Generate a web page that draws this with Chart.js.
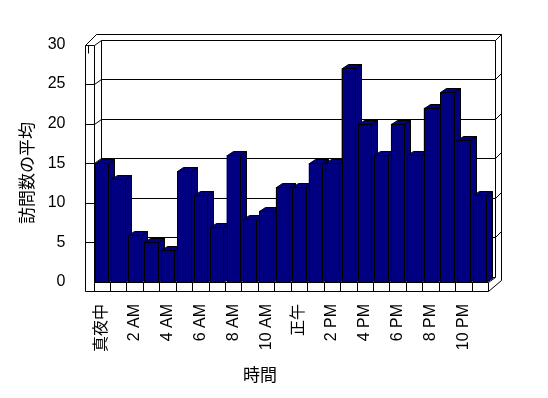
<!DOCTYPE html>
<html><head><meta charset="utf-8">
<script src="https://cdn.jsdelivr.net/npm/chart.js@4/dist/chart.umd.min.js"></script>
<style>html,body{margin:0;padding:0;background:#fff}#wrap{width:548px;height:398px}</style>
</head><body><div id="wrap"><canvas id="c" width="548" height="398"></canvas></div>
<script>
const hours = ['真夜中','1 AM','2 AM','3 AM','4 AM','5 AM','6 AM','7 AM','8 AM','9 AM','10 AM','11 AM',
               '正午','1 PM','2 PM','3 PM','4 PM','5 PM','6 PM','7 PM','8 PM','9 PM','10 PM','11 PM'];
const visits = [15,13,6,5,4,14,11,7,16,8,9,12,12,15,15,27,20,16,20,16,22,24,18,11];
const yTicks = [0,5,10,15,20,25,30];
const xTitle = '時間';
const yTitle = '訪問数の平均';

const BAR = 'rgb(0,0,128)';
const FONT = '"Liberation Sans", "Noto Sans CJK JP", sans-serif';
const CJK = '"Noto Sans CJK JP", sans-serif';

function line(ctx, pts){
  ctx.beginPath();
  ctx.moveTo(pts[0][0], pts[0][1]);
  for(let i=1;i<pts.length;i++) ctx.lineTo(pts[i][0], pts[i][1]);
  ctx.stroke();
}
function poly(ctx, pts, fill){
  ctx.beginPath();
  ctx.moveTo(pts[0][0], pts[0][1]);
  for(let i=1;i<pts.length;i++) ctx.lineTo(pts[i][0], pts[i][1]);
  ctx.closePath();
  ctx.fillStyle = fill; ctx.fill();
  ctx.stroke();
}
const s = v => Math.round(v) + 0.5;

const box3d = {
  id: 'box3d',
  beforeDatasetsDraw(chart){
    const {ctx, scales:{x, y}} = chart;
    const L = s(x.left), R = s(x.right);
    const T = s(y.getPixelForValue(yTicks[yTicks.length-1])), B = s(y.getPixelForValue(0));
    const dx = 7, dy = -5, th = 9, bx = 6, by = -6;
    ctx.save();
    ctx.strokeStyle = '#000'; ctx.lineWidth = 1;
    yTicks.forEach(v => {
      const gy = s(y.getPixelForValue(v));
      if (v > 0) line(ctx, [[L-th, gy],[L, gy]]);
      line(ctx, [[L, gy],[L+dx, gy+dy],[R+dx, gy+dy]]);
      if (v > 0) line(ctx, [[R+dx, gy+dy],[R+dx+bx, gy+dy+by]]);
    });
    line(ctx, [[L+dx, T+dy],[L+dx, B+dy]]);
    line(ctx, [[R+dx, T+dy],[R+dx, B+dy]]);
    line(ctx, [[L, T],[L, B]]);
    line(ctx, [[L-th, B+th],[L-th, T],[L-th+11, T+dy+by],[R+dx+bx, T+dy+by],[R+dx+bx, B+dy-th+12],[R, B+th]]);
    line(ctx, [[L-th+3, T],[L-th+3, T+8]]);
    line(ctx, [[L, B],[R, B]]);
    line(ctx, [[L-th, B+th],[R, B+th]]);
    line(ctx, [[R, B],[R+dx, B+dy]]);
    for (let i = 0; i <= hours.length; i++){
      const px = s(x.left + (x.right - x.left) * i / hours.length);
      line(ctx, [[px, B],[px, B+th]]);
    }
    ctx.restore();
  },
  afterDatasetsDraw(chart){
    const {ctx} = chart;
    const meta = chart.getDatasetMeta(0);
    const bdx = 6, bdy = -4;
    ctx.save();
    ctx.strokeStyle = '#000'; ctx.lineWidth = 1;
    meta.data.forEach(bar => {
      const p = bar.getProps(['x','y','base','width'], true);
      const l = s(p.x - p.width/2), r = s(p.x + p.width/2);
      const t = s(p.y), b = s(p.base);
      poly(ctx, [[r,t],[r+bdx,t+bdy],[r+bdx,b+bdy],[r,b]], BAR);
      poly(ctx, [[l,t],[l+bdx,t+bdy],[r+bdx,t+bdy],[r,t]], BAR);
      poly(ctx, [[l,t],[r,t],[r,b],[l,b]], BAR);
    });
    ctx.restore();
  },
  afterDraw(chart){
    const {ctx} = chart;
    ctx.save();
    ctx.fillStyle = '#000';
    ctx.font = '17px ' + CJK;
    ctx.textAlign = 'center'; ctx.textBaseline = 'middle';
    ctx.fillText(xTitle, 260, 375);
    ctx.translate(27, 173);
    ctx.rotate(-Math.PI/2);
    ctx.fillText(yTitle, 0, 0);
    ctx.restore();
  }
};

new Chart(document.getElementById('c'), {
  type: 'bar',
  data: {
    labels: hours,
    datasets: [{
      data: visits,
      backgroundColor: BAR,
      borderWidth: 0,
      barPercentage: 0.81,
      categoryPercentage: 1.0
    }]
  },
  options: {
    responsive: false,
    animation: false,
    events: [],
    layout: { padding: { top: 44.5, right: 60, bottom: 0, left: 0 } },
    plugins: { legend: { display: false }, tooltip: { enabled: false }, title: { display: false } },
    scales: {
      x: {
        grid: { display: false },
        border: { display: false },
        ticks: {
          autoSkip: false,
          maxRotation: 90, minRotation: 90,
          padding: 14,
          color: '#000',
          font: { size: 16, family: FONT },
          callback: (v, i) => (i % 2 === 0 ? hours[i] : '')
        },
        afterFit: sc => { sc.height = 116; }
      },
      y: {
        min: 0, max: 30,
        grid: { display: false },
        border: { display: false },
        ticks: {
          stepSize: 5,
          padding: 20,
          color: '#000',
          font: { size: 16, family: FONT }
        },
        afterFit: sc => { sc.width = 93.5; }
      }
    }
  },
  plugins: [box3d]
});
</script>
</body></html>
